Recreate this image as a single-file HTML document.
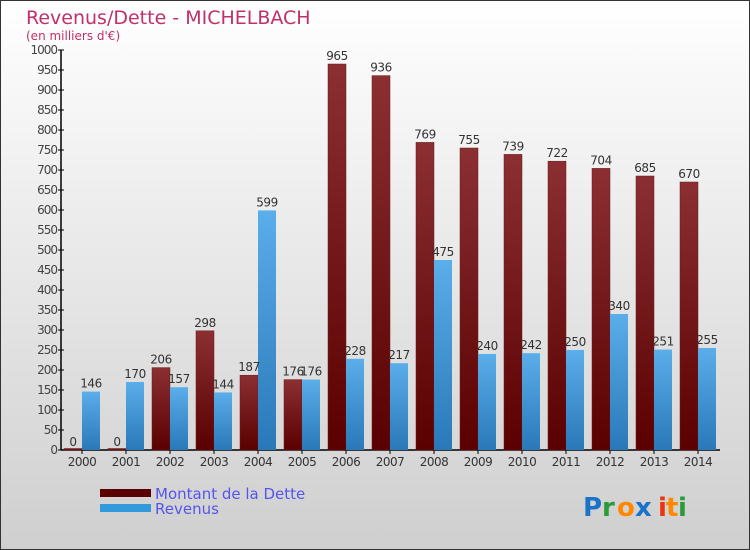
<!DOCTYPE html>
<html><head><meta charset="utf-8">
<style>
html,body{margin:0;padding:0}
body{width:750px;height:550px;overflow:hidden;font-family:"DejaVu Sans","Liberation Sans",sans-serif}
#wrap{position:absolute;left:0;top:0;width:748px;height:548px;border:1px solid #333;background:linear-gradient(#ffffff,#cfcfcf)}
</style></head><body>
<div id="wrap">
<svg id="chart" width="750" height="550" style="position:absolute;left:-1px;top:-1px">
<defs>
<linearGradient id="gd" x1="0" y1="0" x2="0" y2="1"><stop offset="0" stop-color="#8b2f33"/><stop offset="1" stop-color="#5a0000"/></linearGradient>
<linearGradient id="gr" x1="0" y1="0" x2="0" y2="1"><stop offset="0" stop-color="#5aaeea"/><stop offset="1" stop-color="#2a78b8"/></linearGradient>
</defs>
<text x="26" y="24" font-size="19" fill="#c0306a" font-family="DejaVu Sans, sans-serif">Revenus/Dette - MICHELBACH</text>
<text x="26" y="40" font-size="12" fill="#c0306a">(en milliers d'€)</text>
<g id="axes"></g>
<g id="bars"></g>
<rect x="100" y="489" width="51" height="8" fill="#5a0000"/>
<rect x="100" y="504" width="51" height="8" fill="#3399dd"/>
<text x="155" y="499" font-size="15" fill="#5555ee">Montant de la Dette</text>
<text x="155" y="514" font-size="15" fill="#5555ee">Revenus</text>
<g font-size="26" font-weight="bold">
<text x="583" y="516" fill="#1a73c8">P</text><text x="602" y="516" fill="#2a9a3a">r</text><text x="617" y="516" fill="#ff8800">o</text><text x="635" y="516" fill="#1a73c8">x</text><text x="658" y="516" fill="#ee3311">i</text><text x="666" y="516" fill="#ff8800">t</text><text x="678" y="516" fill="#2a9a3a">i</text>
</g>
</svg>
</div>
<script>
const years=["2000","2001","2002","2003","2004","2005","2006","2007","2008","2009","2010","2011","2012","2013","2014"];
const dette=[0,0,206,298,187,176,965,936,769,755,739,722,704,685,670];
const revenus=[146,170,157,144,599,176,228,217,475,240,242,250,340,251,255];
const yTicks=[0,50,100,150,200,250,300,350,400,450,500,550,600,650,700,750,800,850,900,950,1000];
const NS="http://www.w3.org/2000/svg";
const y=v=>450-v*0.4;
const xc=i=>82+i*44;
const ax=document.getElementById('axes'), bg=document.getElementById('bars');
function mk(tag,attrs,parent){const e=document.createElementNS(NS,tag);for(const k in attrs)e.setAttribute(k,attrs[k]);parent.appendChild(e);return e;}
let l=mk('line',{x1:61,y1:50,x2:61,y2:450,stroke:'#000','stroke-width':1.5},ax);


l=mk('line',{x1:61,y1:450,x2:720,y2:450,stroke:'#000','stroke-width':1.5},ax);


yTicks.forEach(v=>{
  mk('line',{x1:58,x2:64,y1:y(v),y2:y(v),stroke:'#000'},ax);
  const t=mk('text',{x:57,y:y(v)+4,'text-anchor':'end','font-size':12,fill:'#444','letter-spacing':'-1'},ax);
  t.textContent=v;
  
  
});
years.forEach((yr,i)=>{
  mk('line',{x1:xc(i),x2:xc(i),y1:450,y2:454,stroke:'#000'},ax);
  const t=mk('text',{x:xc(i),y:466,'text-anchor':'middle','font-size':12,fill:'#333','letter-spacing':'-0.5'},ax);
  t.textContent=yr;
  
  
  const hd=Math.max(dette[i]*0.4,1.5);
  const r1=mk('rect',{x:xc(i)-18,y:450-hd,width:18,height:hd,fill:'url(#gd)',stroke:'#6a1a1a','stroke-width':0.5},bg);
  
  
  const r2=mk('rect',{x:xc(i),y:y(revenus[i]),width:18,height:revenus[i]*0.4,fill:'url(#gr)'},bg);
  
  
  const t1=mk('text',{x:xc(i)-9,y:y(dette[i])-4,'text-anchor':'middle','font-size':12,fill:'#333','letter-spacing':'-0.5'},bg);
  t1.textContent=dette[i];
  
  
  const t2=mk('text',{x:xc(i)+9,y:y(revenus[i])-4,'text-anchor':'middle','font-size':12,fill:'#333','letter-spacing':'-0.5'},bg);
  t2.textContent=revenus[i];
  
  
});
</script>
</body></html>
